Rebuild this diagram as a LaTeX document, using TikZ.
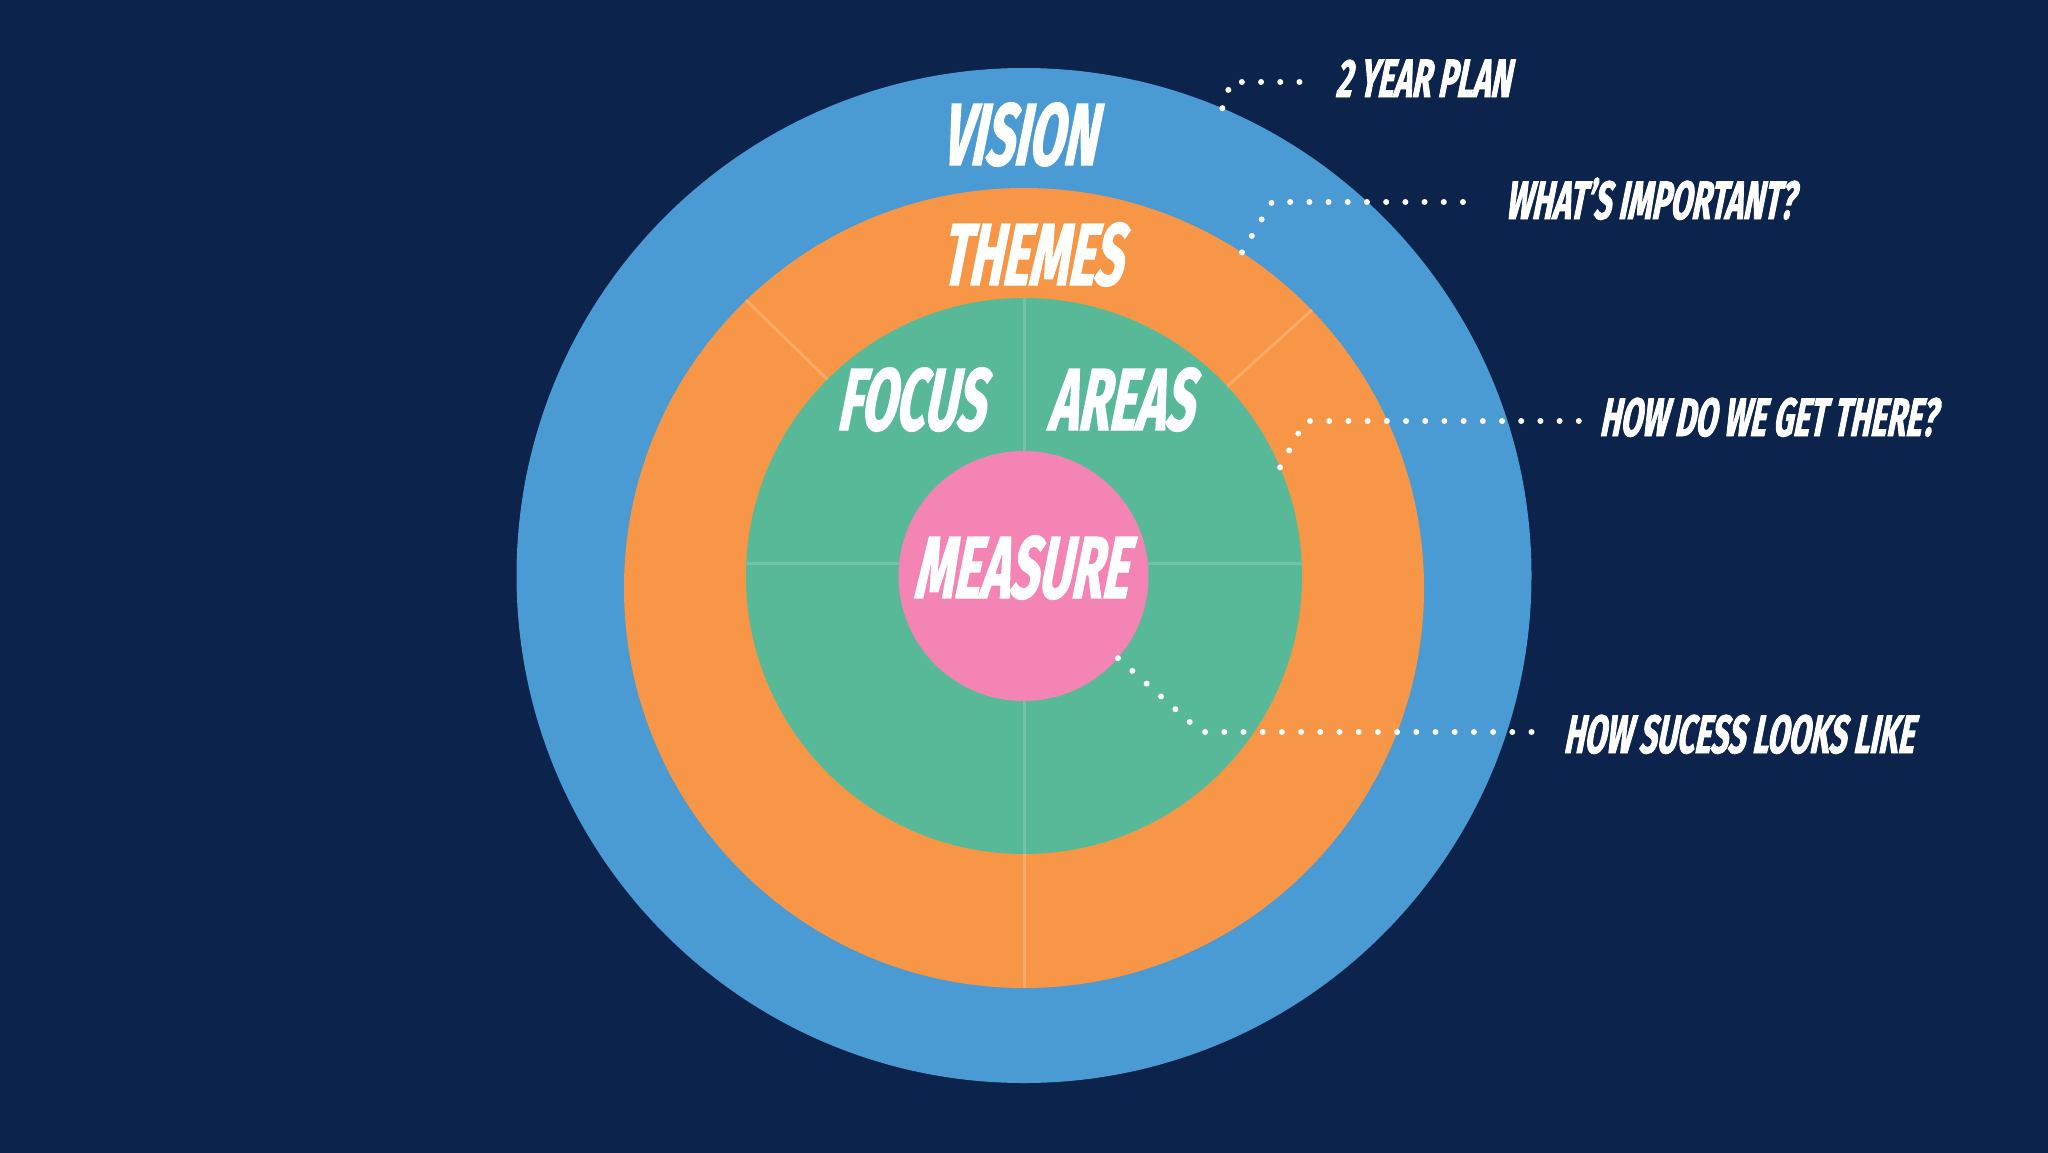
\documentclass[tikz,border=0pt]{standalone}
\usepackage{fontspec}
\newfontfamily\labelfont[FakeStretch=0.57,FakeSlant=0.2,FakeBold=1.5]{Fira Sans}
\definecolor{bgnavy}{HTML}{0C234C}
\definecolor{vblue}{HTML}{4A9AD4}
\definecolor{torange}{HTML}{F79646}
\definecolor{fgreen}{HTML}{58B998}
\definecolor{mpink}{HTML}{F484B3}
\definecolor{gline}{HTML}{6DC4A8}
\definecolor{oline}{HTML}{F9AA66}
\begin{document}
\begin{tikzpicture}[x=1pt,y=-1pt,
  ring/.style={circle,inner sep=0pt,draw=none},
  bigtxt/.style={text=white,font=\labelfont\bfseries\fontsize{88}{88}\selectfont,inner sep=0pt,anchor=base},
  smalltxt/.style={text=white,font=\labelfont\bfseries\fontsize{54}{54}\selectfont,inner sep=0pt,anchor=base west},
  dotline/.style={draw=white,line width=6pt,line cap=round,dash pattern=on 0pt off 19.2pt},
  divider/.style={line width=3pt}]
\useasboundingbox (0,0) rectangle (2048,1152);
\fill[bgnavy] (-4,-4) rectangle (2052,1156);
% rings
\node[ring,fill=vblue,minimum size=1015pt] (vision) at (1024,575.5) {};
\node[ring,fill=torange,minimum size=800pt] (themes) at (1024,588) {};
\node[ring,fill=fgreen,minimum size=556pt] (focus) at (1024,576) {};
% dividers
\draw[divider,draw=gline] (focus.north) -- (focus.south);
\draw[divider,draw=gline] (746.5,563) -- (1301.5,563);
\draw[divider,draw=oline] (focus.south) -- (themes.south);
\draw[divider,draw=oline] (focus.135) -- (themes.134);
\draw[divider,draw=oline] (focus.43) -- (themes.44);
\node[ring,fill=mpink,minimum size=250pt] (measure) at (1023.5,576) {};
% big labels
\node[bigtxt] (tvision) at (1018,165) {VISION};
\node[bigtxt] (tthemes) at (1031,285) {THEMES};
\node[bigtxt] (tfocus) at (910,430) {FOCUS};
\node[bigtxt] (tareas) at (1120,430) {AREAS};
\node[bigtxt] (tmeasure) at (1020,598) {MEASURE};
% side labels
\node[smalltxt] (lplan) at (1335,97) {2 YEAR PLAN};
\node[smalltxt] (limp) at (1505,219) {WHAT’S IMPORTANT?};
\node[smalltxt] (lhow) at (1599,436) {HOW DO WE GET THERE?};
\node[smalltxt] (lsucc) at (1563,753) {HOW SUCESS LOOKS LIKE};
% connectors
\coordinate (c1) at (1231,82);   \coordinate (e1) at (1316,82);
\coordinate (c2) at (1272,202);  \coordinate (e2) at (1471,202);
\coordinate (c3) at (1305,421);  \coordinate (e3) at (1581,421);
\coordinate (c4) at (1201,732);  \coordinate (e4) at (1548,732);
\draw[dotline] (vision.67.5) -- (c1) -- (e1);
\draw[dotline] (themes.57) -- (c2) -- (e2);
\draw[dotline] (focus.23.6) -- (c3) -- (e3);
\draw[dotline] (measure.-41) -- (c4) -- (e4);
\end{tikzpicture}
\end{document}
